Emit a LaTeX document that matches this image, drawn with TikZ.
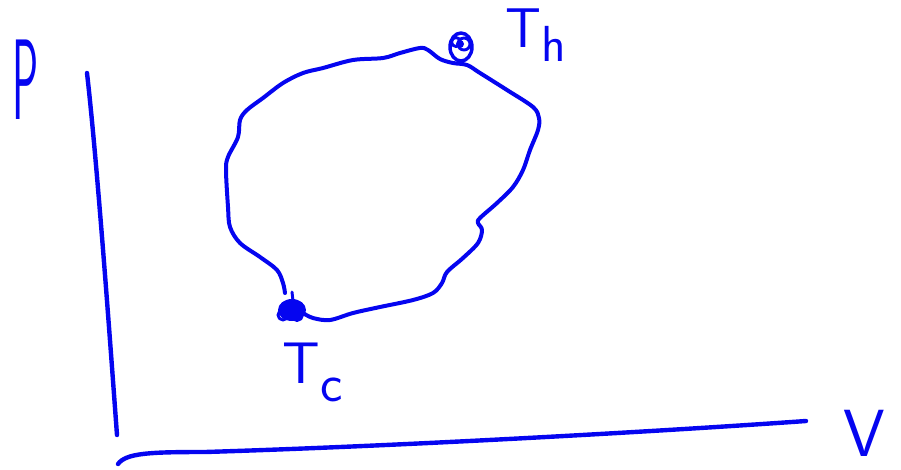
\documentclass[tikz,border=0pt]{standalone}
\usepackage{graphicx}
\definecolor{pen}{RGB}{5,5,240}
\tikzset{every picture/.style={line width=0.75pt}}
\tikzset{
  ink/.style={draw=pen, line width=3pt, line cap=round, line join=round},
  scrawl/.style={text=pen, font=\sffamily, inner sep=0pt}
}

\begin{document}
\begin{tikzpicture}[x=0.75pt,y=0.75pt,yscale=-1,xscale=1]
\useasboundingbox (0,0) rectangle (901,469);

%Straight Lines [id:pAxis]
\coordinate (ptop) at (87,73);
\coordinate (pbot) at (117,435);
\draw [ink, line width=3.3pt]   (ptop) .. controls (97,160) and (110,340) .. (pbot) ;
%Straight Lines [id:vAxis]
\coordinate (vleft) at (118,464);
\coordinate (vright) at (806,421);
\draw [ink, line width=3.3pt]   (vleft) .. controls (126,453) and (150,452) .. (205,452) .. controls (400,446) and (650,432) .. (vright) ;

%Curve Lines [id:loop]
\draw [ink]  plot [smooth, tension=0.55] coordinates {
  (285,293) (283,283) (277,270) (260,257) (240,243) (230,227) (228,207)
  (226,170) (228,157) (238,137) (240,120) (247,110) (263,98) (283,83)
  (303,73) (323,68) (353,60) (383,58) (400,53) (420,48) (428,50)
  (440,59) (453,63) (467,65) (480,73) (507,90) (533,107) (539,118)
  (538,130) (530,150) (523,170) (513,187) (497,203) (480,218) (478,223)
  (482,230) (478,243) (463,258) (447,272) (442,283) (433,293) (413,300)
  (380,307) (353,313) (330,320) (313,318) (303,313) } ;

%Shape: Scribble [id:hotDot]
\draw [ink, line width=2.6pt]  (461,47) ellipse [x radius=11, y radius=14] ;
\draw [ink, line width=2.2pt]  (464,44) circle [radius=6] ;
\draw [ink, line width=2.2pt]  (456,42) circle [radius=4.5] ;
\fill [pen] (460,44) circle [radius=4] ;
%Shape: Scribble [id:coldDot]
\fill [pen] (292,310) ellipse [x radius=14, y radius=11] ;
\draw [ink, line width=2.2pt]  (283,315) circle [radius=5] ;
\draw [ink, line width=2.2pt]  (297,315) circle [radius=5.5] ;
\draw [ink, line width=2.2pt]  (292,292) -- (293,301) ;

% Text Node
\node [scrawl] (lblP) at (26,80) {\fontsize{86}{86}\selectfont\scalebox{0.38}[1]{P}};
% Text Node
\node [scrawl] (lblV) at (864,433) {\fontsize{50}{50}\selectfont V};
% Text Node
\node [scrawl, anchor=south west] (lblTh) at (505,62) {\fontsize{42}{42}\selectfont T\raisebox{-0.25em}{\fontsize{38}{38}\selectfont h}};
% Text Node
\node [scrawl, anchor=south west] (lblTc) at (282,402) {\fontsize{44}{44}\selectfont T\raisebox{-0.3em}{\fontsize{40}{40}\selectfont c}};

\end{tikzpicture}
\end{document}
